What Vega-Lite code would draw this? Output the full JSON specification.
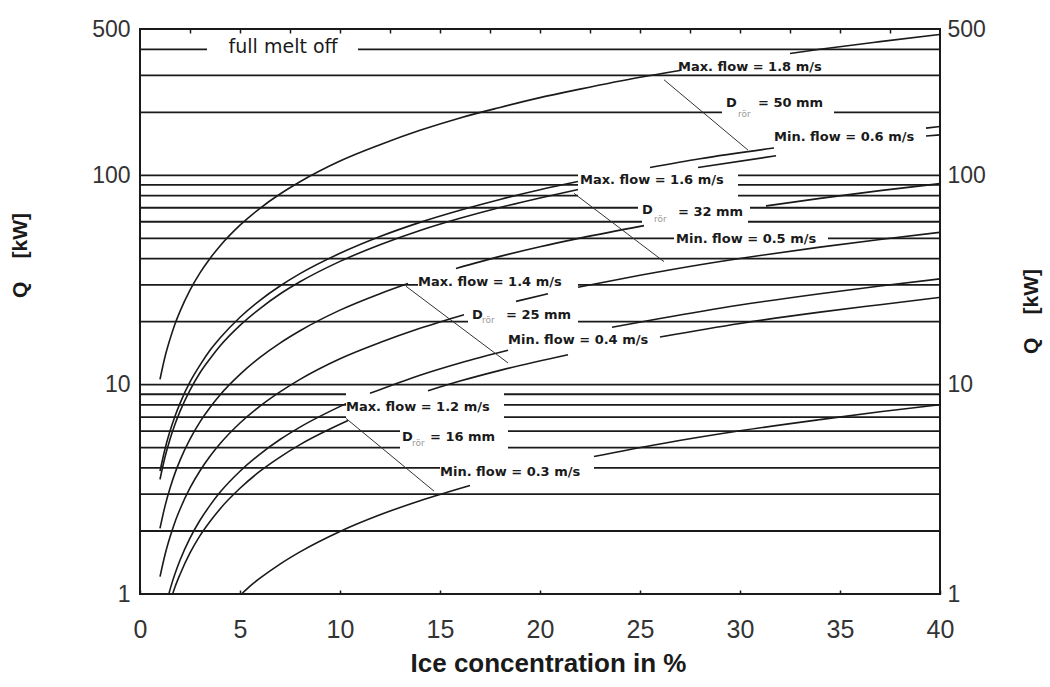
{
  "$schema": "https://vega.github.io/schema/vega-lite/v6.json",
  "width": 800,
  "height": 565,
  "autosize": {"type": "none"},
  "padding": {"left": 140, "top": 29, "right": 110, "bottom": 93},
  "background": "white",
  "config": {"view": {"stroke": "#1a1a1a", "strokeWidth": 2}},
  "resolve": {"axis": {"x": "independent", "y": "independent"}},
  "datasets": {
    "grid": [
      {"q": 400, "x1": 0, "x2": 3.35}, {"q": 400, "x1": 10.9, "x2": 40},
      {"q": 300, "x1": 0, "x2": 40},
      {"q": 200, "x1": 0, "x2": 29.1}, {"q": 200, "x1": 34.7, "x2": 40},
      {"q": 100, "x1": 0, "x2": 21.9}, {"q": 100, "x1": 29.9, "x2": 40},
      {"q": 90, "x1": 0, "x2": 21.9}, {"q": 90, "x1": 29.9, "x2": 40},
      {"q": 80, "x1": 0, "x2": 21.9}, {"q": 80, "x1": 29.9, "x2": 40},
      {"q": 70, "x1": 0, "x2": 24.9}, {"q": 70, "x1": 30.5, "x2": 40},
      {"q": 60, "x1": 0, "x2": 25.1}, {"q": 60, "x1": 30.4, "x2": 40},
      {"q": 50, "x1": 0, "x2": 26.7}, {"q": 50, "x1": 34.4, "x2": 40},
      {"q": 40, "x1": 0, "x2": 40},
      {"q": 30, "x1": 0, "x2": 13.9}, {"q": 30, "x1": 21.9, "x2": 40},
      {"q": 20, "x1": 0, "x2": 16.4}, {"q": 20, "x1": 21.9, "x2": 40},
      {"q": 10, "x1": 0, "x2": 40},
      {"q": 9, "x1": 0, "x2": 10.3}, {"q": 9, "x1": 18.2, "x2": 40},
      {"q": 8, "x1": 0, "x2": 10.3}, {"q": 8, "x1": 18.2, "x2": 40},
      {"q": 7, "x1": 0, "x2": 10.3}, {"q": 7, "x1": 18.2, "x2": 40},
      {"q": 6, "x1": 0, "x2": 13.0}, {"q": 6, "x1": 18.4, "x2": 40},
      {"q": 5, "x1": 0, "x2": 13.0}, {"q": 5, "x1": 18.4, "x2": 40},
      {"q": 4, "x1": 0, "x2": 15.0}, {"q": 4, "x1": 22.7, "x2": 40},
      {"q": 3, "x1": 0, "x2": 40},
      {"q": 2, "x1": 0, "x2": 40}
    ],
    "curves": [
      {"s": "A1", "c": 1, "q": 10.6}, {"s": "A1", "c": 1.25, "q": 13.6}, {"s": "A1", "c": 1.5, "q": 16.5}, {"s": "A1", "c": 1.75, "q": 19.5}, {"s": "A1", "c": 2, "q": 22.4}, {"s": "A1", "c": 2.5, "q": 28.3}, {"s": "A1", "c": 3, "q": 34.2}, {"s": "A1", "c": 3.5, "q": 40.1}, {"s": "A1", "c": 4, "q": 46.0}, {"s": "A1", "c": 5, "q": 57.8}, {"s": "A1", "c": 6, "q": 69.6}, {"s": "A1", "c": 7, "q": 81.4}, {"s": "A1", "c": 8, "q": 93.2}, {"s": "A1", "c": 10, "q": 117}, {"s": "A1", "c": 12, "q": 140}, {"s": "A1", "c": 14, "q": 164}, {"s": "A1", "c": 16, "q": 188}, {"s": "A1", "c": 18, "q": 211}, {"s": "A1", "c": 20, "q": 235}, {"s": "A1", "c": 22, "q": 258}, {"s": "A1", "c": 25, "q": 294}, {"s": "A1", "c": 27, "q": 317},
      {"s": "A2", "c": 32.5, "q": 382}, {"s": "A2", "c": 34, "q": 400}, {"s": "A2", "c": 37, "q": 435}, {"s": "A2", "c": 40, "q": 471},
      {"s": "B1", "c": 1, "q": 3.86}, {"s": "B1", "c": 1.25, "q": 4.93}, {"s": "B1", "c": 1.5, "q": 6.0}, {"s": "B1", "c": 1.75, "q": 7.07}, {"s": "B1", "c": 2, "q": 8.14}, {"s": "B1", "c": 2.5, "q": 10.3}, {"s": "B1", "c": 3, "q": 12.4}, {"s": "B1", "c": 3.5, "q": 14.6}, {"s": "B1", "c": 4, "q": 16.7}, {"s": "B1", "c": 5, "q": 21.0}, {"s": "B1", "c": 6, "q": 25.3}, {"s": "B1", "c": 7, "q": 29.6}, {"s": "B1", "c": 8, "q": 33.9}, {"s": "B1", "c": 10, "q": 42.4}, {"s": "B1", "c": 12, "q": 51.0}, {"s": "B1", "c": 14, "q": 59.6}, {"s": "B1", "c": 16, "q": 68.1}, {"s": "B1", "c": 18, "q": 76.7}, {"s": "B1", "c": 20, "q": 85.3}, {"s": "B1", "c": 21.9, "q": 93.4},
      {"s": "B2", "c": 25.5, "q": 109}, {"s": "B2", "c": 28, "q": 120}, {"s": "B2", "c": 31.7, "q": 135},
      {"s": "B3", "c": 39.3, "q": 168}, {"s": "B3", "c": 40, "q": 171},
      {"s": "C1", "c": 1, "q": 3.53}, {"s": "C1", "c": 1.25, "q": 4.51}, {"s": "C1", "c": 1.5, "q": 5.49}, {"s": "C1", "c": 1.75, "q": 6.47}, {"s": "C1", "c": 2, "q": 7.45}, {"s": "C1", "c": 2.5, "q": 9.41}, {"s": "C1", "c": 3, "q": 11.4}, {"s": "C1", "c": 3.5, "q": 13.3}, {"s": "C1", "c": 4, "q": 15.3}, {"s": "C1", "c": 5, "q": 19.2}, {"s": "C1", "c": 6, "q": 23.1}, {"s": "C1", "c": 7, "q": 27.1}, {"s": "C1", "c": 8, "q": 31.0}, {"s": "C1", "c": 10, "q": 38.8}, {"s": "C1", "c": 12, "q": 46.6}, {"s": "C1", "c": 14, "q": 54.5}, {"s": "C1", "c": 16, "q": 62.3}, {"s": "C1", "c": 18, "q": 70.2}, {"s": "C1", "c": 20, "q": 78.0}, {"s": "C1", "c": 21.9, "q": 85.5},
      {"s": "C2", "c": 27.9, "q": 109}, {"s": "C2", "c": 31.8, "q": 124},
      {"s": "C3", "c": 39.3, "q": 154}, {"s": "C3", "c": 40, "q": 156},
      {"s": "D1", "c": 1, "q": 2.06}, {"s": "D1", "c": 1.25, "q": 2.63}, {"s": "D1", "c": 1.5, "q": 3.2}, {"s": "D1", "c": 1.75, "q": 3.78}, {"s": "D1", "c": 2, "q": 4.35}, {"s": "D1", "c": 2.5, "q": 5.49}, {"s": "D1", "c": 3, "q": 6.64}, {"s": "D1", "c": 3.5, "q": 7.78}, {"s": "D1", "c": 4, "q": 8.93}, {"s": "D1", "c": 5, "q": 11.2}, {"s": "D1", "c": 6, "q": 13.5}, {"s": "D1", "c": 7, "q": 15.8}, {"s": "D1", "c": 8, "q": 18.1}, {"s": "D1", "c": 10, "q": 22.7}, {"s": "D1", "c": 12, "q": 27.2}, {"s": "D1", "c": 13.4, "q": 30.4},
      {"s": "D2", "c": 15.8, "q": 35.9}, {"s": "D2", "c": 18, "q": 41.0}, {"s": "D2", "c": 20, "q": 45.6}, {"s": "D2", "c": 22, "q": 50.1}, {"s": "D2", "c": 25.2, "q": 57.5},
      {"s": "D3", "c": 31.3, "q": 71.4}, {"s": "D3", "c": 34, "q": 77.6}, {"s": "D3", "c": 37, "q": 84.5}, {"s": "D3", "c": 40, "q": 91.3},
      {"s": "E1", "c": 1, "q": 1.21}, {"s": "E1", "c": 1.25, "q": 1.54}, {"s": "E1", "c": 1.5, "q": 1.87}, {"s": "E1", "c": 1.75, "q": 2.21}, {"s": "E1", "c": 2, "q": 2.54}, {"s": "E1", "c": 2.5, "q": 3.21}, {"s": "E1", "c": 3, "q": 3.88}, {"s": "E1", "c": 3.5, "q": 4.55}, {"s": "E1", "c": 4, "q": 5.22}, {"s": "E1", "c": 5, "q": 6.56}, {"s": "E1", "c": 6, "q": 7.9}, {"s": "E1", "c": 7, "q": 9.24}, {"s": "E1", "c": 8, "q": 10.6}, {"s": "E1", "c": 10, "q": 13.3}, {"s": "E1", "c": 12, "q": 15.9}, {"s": "E1", "c": 14, "q": 18.6}, {"s": "E1", "c": 16.2, "q": 21.6},
      {"s": "E2", "c": 18.8, "q": 25.0}, {"s": "E2", "c": 20.4, "q": 27.2},
      {"s": "E3", "c": 21.9, "q": 29.2}, {"s": "E3", "c": 25, "q": 33.3}, {"s": "E3", "c": 28, "q": 37.4}, {"s": "E3", "c": 31, "q": 41.4}, {"s": "E3", "c": 34, "q": 45.4}, {"s": "E3", "c": 37, "q": 49.4}, {"s": "E3", "c": 40, "q": 53.4},
      {"s": "F1", "c": 1.44, "q": 1.0}, {"s": "F1", "c": 1.6, "q": 1.13}, {"s": "F1", "c": 1.75, "q": 1.25}, {"s": "F1", "c": 2, "q": 1.45}, {"s": "F1", "c": 2.5, "q": 1.85}, {"s": "F1", "c": 3, "q": 2.25}, {"s": "F1", "c": 3.5, "q": 2.65}, {"s": "F1", "c": 4, "q": 3.06}, {"s": "F1", "c": 5, "q": 3.86}, {"s": "F1", "c": 6, "q": 4.66}, {"s": "F1", "c": 7, "q": 5.47}, {"s": "F1", "c": 8, "q": 6.27}, {"s": "F1", "c": 10.3, "q": 8.12},
      {"s": "F2", "c": 11.5, "q": 9.09}, {"s": "F2", "c": 14, "q": 11.1}, {"s": "F2", "c": 16, "q": 12.7}, {"s": "F2", "c": 18.4, "q": 14.6},
      {"s": "F3", "c": 23.6, "q": 18.8}, {"s": "F3", "c": 26, "q": 20.7}, {"s": "F3", "c": 30, "q": 24.0}, {"s": "F3", "c": 34, "q": 27.2}, {"s": "F3", "c": 37, "q": 29.6}, {"s": "F3", "c": 40, "q": 32.0},
      {"s": "G1", "c": 1.63, "q": 1.0}, {"s": "G1", "c": 1.75, "q": 1.08}, {"s": "G1", "c": 2, "q": 1.24}, {"s": "G1", "c": 2.5, "q": 1.57}, {"s": "G1", "c": 3, "q": 1.9}, {"s": "G1", "c": 3.5, "q": 2.22}, {"s": "G1", "c": 4, "q": 2.55}, {"s": "G1", "c": 5, "q": 3.2}, {"s": "G1", "c": 6, "q": 3.86}, {"s": "G1", "c": 7, "q": 4.51}, {"s": "G1", "c": 8, "q": 5.17}, {"s": "G1", "c": 10.4, "q": 6.74},
      {"s": "G2", "c": 14.4, "q": 9.35}, {"s": "G2", "c": 16, "q": 10.4}, {"s": "G2", "c": 18, "q": 11.7}, {"s": "G2", "c": 21.4, "q": 13.9},
      {"s": "G3", "c": 26, "q": 16.9}, {"s": "G3", "c": 30, "q": 19.6}, {"s": "G3", "c": 34, "q": 22.2}, {"s": "G3", "c": 37, "q": 24.1}, {"s": "G3", "c": 40, "q": 26.1},
      {"s": "H1", "c": 5.08, "q": 1.0}, {"s": "H1", "c": 5.5, "q": 1.09}, {"s": "H1", "c": 6, "q": 1.19}, {"s": "H1", "c": 7, "q": 1.39}, {"s": "H1", "c": 8, "q": 1.59}, {"s": "H1", "c": 10, "q": 1.99}, {"s": "H1", "c": 12, "q": 2.39}, {"s": "H1", "c": 14, "q": 2.79}, {"s": "H1", "c": 16.5, "q": 3.3},
      {"s": "H2", "c": 22.7, "q": 4.54}, {"s": "H2", "c": 26, "q": 5.21}, {"s": "H2", "c": 30, "q": 6.02}, {"s": "H2", "c": 34, "q": 6.81}, {"s": "H2", "c": 37, "q": 7.42}, {"s": "H2", "c": 40, "q": 8.02}
    ],
    "pointers": [
      {"c1": 26.2, "q1": 286, "c2": 30.4, "q2": 132},
      {"c1": 21.7, "q1": 82, "c2": 26.2, "q2": 38.7},
      {"c1": 13.3, "q1": 29.5, "c2": 18.4, "q2": 12.7},
      {"c1": 10.3, "q1": 6.9, "c2": 14.7, "q2": 3.1}
    ],
    "labels": [
      {"role": "note", "text": "full melt off", "c": 4.43, "q": 410},
      {"role": "flow", "text": "Max. flow = 1.8 m/s", "c": 26.9, "q": 331},
      {"role": "flow", "text": "D", "c": 29.3, "q": 222},
      {"role": "sub", "text": "rör", "c": 29.9, "q": 196},
      {"role": "flow", "text": "= 50 mm", "c": 30.9, "q": 222},
      {"role": "flow", "text": "Min. flow = 0.6 m/s", "c": 31.7, "q": 152.5},
      {"role": "flow", "text": "Max. flow = 1.6 m/s", "c": 22.0, "q": 95},
      {"role": "flow", "text": "D", "c": 25.1, "q": 68.4},
      {"role": "sub", "text": "rör", "c": 25.7, "q": 61.7},
      {"role": "flow", "text": "= 32 mm", "c": 26.9, "q": 67},
      {"role": "flow", "text": "Min. flow = 0.5 m/s", "c": 26.8, "q": 49.5},
      {"role": "flow", "text": "Max. flow = 1.4 m/s", "c": 13.9, "q": 31.1},
      {"role": "flow", "text": "D", "c": 16.6, "q": 21.5},
      {"role": "sub", "text": "rör", "c": 17.1, "q": 20.4},
      {"role": "flow", "text": "= 25 mm", "c": 18.3, "q": 21.5},
      {"role": "flow", "text": "Min. flow = 0.4 m/s", "c": 18.4, "q": 16.4},
      {"role": "flow", "text": "Max. flow = 1.2 m/s", "c": 10.3, "q": 7.85},
      {"role": "flow", "text": "D", "c": 13.1, "q": 5.64},
      {"role": "sub", "text": "rör", "c": 13.6, "q": 5.27},
      {"role": "flow", "text": "= 16 mm", "c": 14.5, "q": 5.64},
      {"role": "flow", "text": "Min. flow = 0.3 m/s", "c": 15.0, "q": 3.84}
    ]
  },
  "layer": [
    {
      "data": {"name": "grid"},
      "mark": {"type": "rule", "color": "#1a1a1a", "strokeWidth": 1.8},
      "encoding": {
        "x": {"field": "x1", "type": "quantitative", "scale": {"domain": [0, 40], "nice": false, "zero": false},
          "axis": {"orient": "bottom", "values": [0, 5, 10, 15, 20, 25, 30, 35, 40], "grid": false, "domain": false,
            "ticks": true, "tickSize": -4, "tickColor": "#1a1a1a", "tickWidth": 1.5, "labelFlush": false, "labelOverlap": false,
            "labelFont": "Liberation Sans", "labelFontSize": 25, "labelColor": "#333", "labelPadding": 27,
            "title": "Ice concentration in %", "titleFont": "Liberation Sans", "titleFontSize": 26, "titleFontWeight": "bold",
            "titleColor": "#1a1a1a", "titleX": 408, "titleY": 69, "titleAlign": "center", "titleBaseline": "middle"}},
        "x2": {"field": "x2"},
        "y": {"field": "q", "type": "quantitative", "scale": {"type": "log", "domain": [1, 500], "nice": false},
          "axis": {"orient": "left", "values": [1, 10, 100, 500], "format": "d", "grid": false, "domain": false, "ticks": false,
            "labelFont": "Liberation Sans", "labelFontSize": 23, "labelColor": "#333", "labelPadding": 10, "labelOverlap": false,
            "title": "Q\u00a0\u00a0\u00a0\u00a0[kW]", "titleFont": "Liberation Sans", "titleFontSize": 21, "titleFontWeight": "bold", "titleColor": "#1a1a1a",
            "titleAngle": 270, "titleX": -120, "titleY": 226, "titleAlign": "center", "titleBaseline": "middle"}}
      }
    },
    {
      "data": {"name": "curves"},
      "mark": {"type": "line", "interpolate": "monotone", "color": "#1a1a1a", "strokeWidth": 1.6},
      "encoding": {
        "x": {"field": "c", "type": "quantitative", "scale": {"domain": [0, 40], "nice": false, "zero": false},
          "axis": {"orient": "top", "values": [2.5, 5, 7.5, 10, 12.5, 15, 17.5, 20, 22.5, 25, 27.5, 30, 32.5, 35, 37.5],
            "labels": false, "grid": false, "domain": false, "ticks": true, "tickSize": -4, "tickColor": "#1a1a1a", "tickWidth": 1.5, "title": null}},
        "y": {"field": "q", "type": "quantitative", "scale": {"type": "log", "domain": [1, 500], "nice": false},
          "axis": {"orient": "right", "values": [1, 10, 100, 500], "format": "d", "grid": false, "domain": false, "ticks": false,
            "labelFont": "Liberation Sans", "labelFontSize": 23, "labelColor": "#333", "labelPadding": 7, "labelOverlap": false,
            "title": "Q\u00a0\u00a0\u00a0\u00a0[kW]", "titleFont": "Liberation Sans", "titleFontSize": 21, "titleFontWeight": "bold", "titleColor": "#1a1a1a",
            "titleAngle": 270, "titleX": 91, "titleY": 282, "titleAlign": "center", "titleBaseline": "middle"}},
        "detail": {"field": "s"}
      }
    },
    {
      "data": {"name": "pointers"},
      "mark": {"type": "rule", "color": "#333", "strokeWidth": 1},
      "encoding": {
        "x": {"field": "c1", "type": "quantitative", "scale": {"domain": [0, 40], "nice": false, "zero": false}, "axis": null},
        "x2": {"field": "c2"},
        "y": {"field": "q1", "type": "quantitative", "scale": {"type": "log", "domain": [1, 500], "nice": false}, "axis": null},
        "y2": {"field": "q2"}
      }
    },
    {
      "data": {"name": "labels"},
      "transform": [{"filter": "datum.role === 'flow'"}],
      "mark": {"type": "text", "align": "left", "baseline": "middle", "font": "DejaVu Sans", "fontWeight": "bold", "fontSize": 13, "color": "#1a1a1a"},
      "encoding": {
        "x": {"field": "c", "type": "quantitative", "scale": {"domain": [0, 40], "nice": false, "zero": false}, "axis": null},
        "y": {"field": "q", "type": "quantitative", "scale": {"type": "log", "domain": [1, 500], "nice": false}, "axis": null},
        "text": {"field": "text"}
      }
    },
    {
      "data": {"name": "labels"},
      "transform": [{"filter": "datum.role === 'sub'"}],
      "mark": {"type": "text", "align": "left", "baseline": "middle", "font": "DejaVu Sans", "fontSize": 9, "color": "#9a9a9a"},
      "encoding": {
        "x": {"field": "c", "type": "quantitative", "scale": {"domain": [0, 40], "nice": false, "zero": false}, "axis": null},
        "y": {"field": "q", "type": "quantitative", "scale": {"type": "log", "domain": [1, 500], "nice": false}, "axis": null},
        "text": {"field": "text"}
      }
    },
    {
      "data": {"name": "labels"},
      "transform": [{"filter": "datum.role === 'note'"}],
      "mark": {"type": "text", "align": "left", "baseline": "middle", "font": "DejaVu Sans", "fontSize": 19, "color": "#1a1a1a"},
      "encoding": {
        "x": {"field": "c", "type": "quantitative", "scale": {"domain": [0, 40], "nice": false, "zero": false}, "axis": null},
        "y": {"field": "q", "type": "quantitative", "scale": {"type": "log", "domain": [1, 500], "nice": false}, "axis": null},
        "text": {"field": "text"}
      }
    }
  ]
}
